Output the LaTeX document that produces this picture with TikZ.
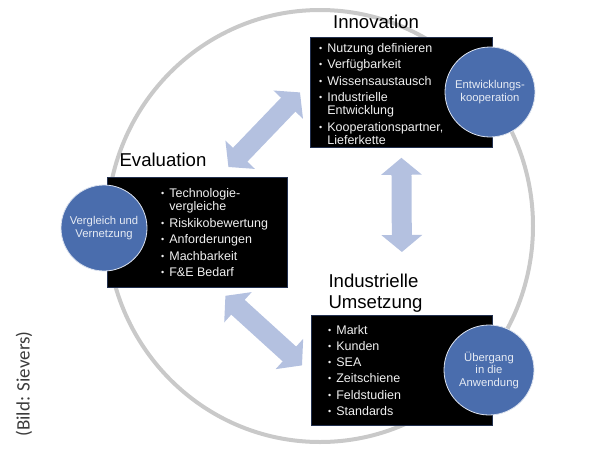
\documentclass[tikz,border=0pt]{standalone}
\usepackage{fontspec}
\setmainfont{Liberation Sans}
\newfontfamily\creditfont{Carlito}
\usetikzlibrary{arrows.meta,positioning,calc}
\definecolor{ring}{HTML}{C9C9C9}
\definecolor{bubble}{HTML}{4A6DAD}
\definecolor{bubbletext}{HTML}{E6EBF4}
\definecolor{frame}{HTML}{22304F}
\definecolor{arrowfill}{HTML}{B4C1E0}
\definecolor{credit}{HTML}{3C3C3C}
\newcommand{\bul}{\raisebox{1pt}{\fontsize{9}{9}\selectfont\textbullet}}
\tikzset{
  panel/.style={
    draw=frame, fill=black, line width=0.8pt,
    anchor=north west, inner sep=0pt
  },
  items/.style={
    anchor=north west, inner sep=0pt,
    text=white!94!black, font=\fontsize{12.5}{13}\selectfont
  },
  bubble/.style={
    circle, draw=white!80!bubble, fill=bubble, line width=0.8pt,
    inner sep=0pt, align=center, text=bubbletext,
    font=\fontsize{11.3}{12.5}\selectfont
  },
  heading/.style={inner sep=0pt, font=\fontsize{18.6}{21}\selectfont},
  blockarr/.style={
    draw=arrowfill, line width=20pt,
    {Triangle[length=17pt,width=40pt]}-{Triangle[length=17pt,width=40pt]}
  }
}

\begin{document}
\begin{tikzpicture}[x=1pt, y=-1pt]
  \useasboundingbox (0,0) rectangle (600,456);
  % outer cycle
  \draw[ring, line width=4pt] (320,226) ellipse [x radius=213pt, y radius=216pt];

  % panels
  \node[panel, minimum width=182pt, minimum height=110pt] (innov) at (310,37) {};
  \node[panel, minimum width=180pt, minimum height=110pt] (eval) at (107,177) {};
  \node[panel, minimum width=181pt, minimum height=110pt] (umsetz) at (311,315) {};

  % block arrows
  \draw[blockarr] ([xshift=-10pt]innov.west) -- ([shift={(31pt,10pt)}]eval.north);
  \draw[blockarr] ([yshift=-10pt]innov.south) -- ([yshift=63pt]umsetz.north);
  \draw[blockarr] ([shift={(28pt,-8pt)}]eval.south) -- ([shift={(-9pt,5pt)}]umsetz.west);

  % headings
  \node[heading, anchor=base] (innovtitle) at (376,28.3) {Innovation};
  \node[heading, anchor=base] (evaltitle) at (163,166.7) {Evaluation};
  \node[heading, anchor=north west, align=left] (umsetztitle) at (328.3,274) {Industrielle\\Umsetzung};

  % lists
  \node[items] (innovlist) at (319,43) {%
    \begin{tabular}{@{}l@{\hspace{5pt}}l@{}}
      \bul & Nutzung definieren\\[3.5pt]
      \bul & Verfügbarkeit\\[3.5pt]
      \bul & Wissensaustausch\\[3.5pt]
      \bul & Industrielle\\
           & Entwicklung\\[3.5pt]
      \bul & Kooperationspartner,\\
           & Lieferkette
    \end{tabular}};
  \node[items] (evallist) at (161,188.4) {%
    \begin{tabular}{@{}l@{\hspace{5pt}}l@{}}
      \bul & Technologie-\\
           & vergleiche\\[3.5pt]
      \bul & Riskikobewertung\\[3.5pt]
      \bul & Anforderungen\\[3.5pt]
      \bul & Machbarkeit\\[3.5pt]
      \bul & F\&E Bedarf
    \end{tabular}};
  \node[items] (umsetzlist) at (328,325) {%
    \begin{tabular}{@{}l@{\hspace{5pt}}l@{}}
      \bul & Markt\\[3.2pt]
      \bul & Kunden\\[3.2pt]
      \bul & SEA\\[3.2pt]
      \bul & Zeitschiene\\[3.2pt]
      \bul & Feldstudien\\[3.2pt]
      \bul & Standards
    \end{tabular}};

  % bubbles
  \node[bubble, minimum size=90pt] (entw) at (490,92) {Entwicklungs-\\kooperation};
  \node[bubble, minimum size=86pt] (vergl) at (104,228) {Vergleich und\\Vernetzung};
  \node[bubble, minimum size=90pt] (uebergang) at (489,370) {Übergang\\in die\\Anwendung};

  % credit
  \node[rotate=90, inner sep=0pt, text=credit, font=\creditfont\fontsize{19}{19}\selectfont] (credit) at (24,384) {(Bild: Sievers)};
\end{tikzpicture}
\end{document}
